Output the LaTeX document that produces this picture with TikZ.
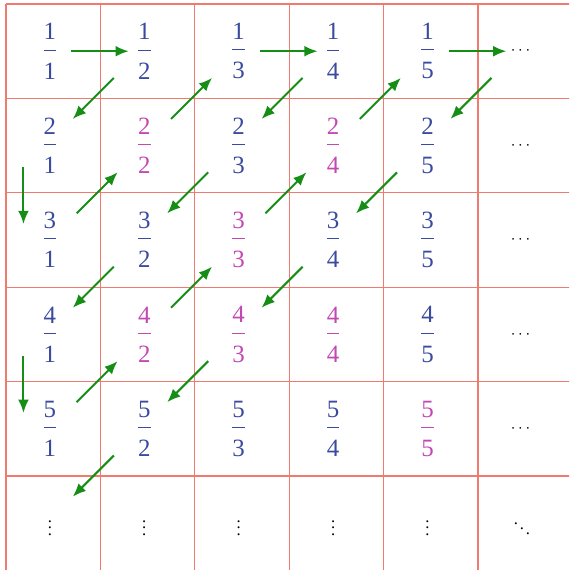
\documentclass[tikz,border=0pt]{standalone}
\usepackage{amsmath}
\usepackage{fontspec}
\setmainfont{Liberation Serif}
\usepackage{tikz}
\usepackage{xcolor}
\usetikzlibrary{arrows.meta}
\definecolor{fracBlue}{RGB}{58,74,158}
\definecolor{fracPink}{RGB}{194,72,178}
\definecolor{arrGreen}{RGB}{22,142,22}
\definecolor{gridRed}{RGB}{240,122,110}
\newcommand{\rat}[2]{$\nulldelimiterspace=0pt\dfrac{\text{#1}}{\raisebox{-4pt}{#2}}$}
\tikzset{
    cellNode/.style={inner sep=0pt, font=\fontsize{15}{18}\selectfont},
    blueFrac/.style={cellNode, text=fracBlue},
    pinkFrac/.style={cellNode, text=fracPink},
    dotsNode/.style={inner sep=0pt, text=black},
    gridLine/.style={draw=gridRed, line width=0.8pt},
    cantorArr/.style={-{Latex[length=2.8mm, width=2.3mm]}, draw=arrGreen, line width=1.2pt},
    horArr/.style={cantorArr, shorten <=4.5mm, shorten >=3.3mm},
    downArr/.style={cantorArr, shorten <=4.5mm, shorten >=3.4mm},
    upArr/.style={cantorArr, shorten <=8mm, shorten >=8mm},
    dlArr/.style={upArr, transform canvas={xshift=-0.8mm}}
}

\begin{document}
\begin{tikzpicture}
    \useasboundingbox (-0.057,0.085) rectangle (11.998,-11.99);
    \clip (-0.057,0.085) rectangle (11.998,-11.99);
    % --- grid ---
    \begin{scope}[xshift=0.7mm]
        \draw[gridLine, step=2] (0,0) grid (12,-12);
    \end{scope}
    % --- row 1 ---
    \node[blueFrac] (c11) at (1,-1) {\rat{1}{1}}; \node[blueFrac] (c12) at (3,-1) {\rat{1}{2}};
    \node[blueFrac] (c13) at (5,-1) {\rat{1}{3}}; \node[blueFrac] (c14) at (7,-1) {\rat{1}{4}};
    \node[blueFrac] (c15) at (9,-1) {\rat{1}{5}}; \node[dotsNode] (c16) at (11,-1) {$\cdots$};
    % --- row 2 ---
    \node[blueFrac] (c21) at (1,-3) {\rat{2}{1}}; \node[pinkFrac] (c22) at (3,-3) {\rat{2}{2}};
    \node[blueFrac] (c23) at (5,-3) {\rat{2}{3}}; \node[pinkFrac] (c24) at (7,-3) {\rat{2}{4}};
    \node[blueFrac] (c25) at (9,-3) {\rat{2}{5}}; \node[dotsNode] (c26) at (11,-3) {$\cdots$};
    % --- row 3 ---
    \node[blueFrac] (c31) at (1,-5) {\rat{3}{1}}; \node[blueFrac] (c32) at (3,-5) {\rat{3}{2}};
    \node[pinkFrac] (c33) at (5,-5) {\rat{3}{3}}; \node[blueFrac] (c34) at (7,-5) {\rat{3}{4}};
    \node[blueFrac] (c35) at (9,-5) {\rat{3}{5}}; \node[dotsNode] (c36) at (11,-5) {$\cdots$};
    % --- row 4 ---
    \node[blueFrac] (c41) at (1,-7) {\rat{4}{1}}; \node[pinkFrac] (c42) at (3,-7) {\rat{4}{2}};
    \node[pinkFrac] (c43) at (5,-7) {\rat{4}{3}}; \node[pinkFrac] (c44) at (7,-7) {\rat{4}{4}};
    \node[blueFrac] (c45) at (9,-7) {\rat{4}{5}}; \node[dotsNode] (c46) at (11,-7) {$\cdots$};
    % --- row 5 ---
    \node[blueFrac] (c51) at (1,-9) {\rat{5}{1}}; \node[blueFrac] (c52) at (3,-9) {\rat{5}{2}};
    \node[blueFrac] (c53) at (5,-9) {\rat{5}{3}}; \node[blueFrac] (c54) at (7,-9) {\rat{5}{4}};
    \node[pinkFrac] (c55) at (9,-9) {\rat{5}{5}}; \node[dotsNode] (c56) at (11,-9) {$\cdots$};
    % --- row 6 ---
    \node[dotsNode] (c61) at (1,-11) {$\vdots$}; \node[dotsNode] (c62) at (3,-11) {$\vdots$};
    \node[dotsNode] (c63) at (5,-11) {$\vdots$}; \node[dotsNode] (c64) at (7,-11) {$\vdots$};
    \node[dotsNode] (c65) at (9,-11) {$\vdots$}; \node[dotsNode] (c66) at (11,-11) {$\ddots$};
    % --- Cantor path ---
    \draw[horArr] (c11.center) -- (c12.center);
    \draw[dlArr] (c12.center) -- (c21.center);
    \draw[downArr] ([xshift=-5.6mm]c21.center) -- ([xshift=-5.6mm]c31.center);
    \draw[upArr] (c31.center) -- (c22.center);
    \draw[upArr] (c22.center) -- (c13.center);
    \draw[horArr] (c13.center) -- (c14.center);
    \draw[dlArr] (c14.center) -- (c23.center);
    \draw[dlArr] (c23.center) -- (c32.center);
    \draw[dlArr] (c32.center) -- (c41.center);
    \draw[downArr] ([xshift=-5.6mm]c41.center) -- ([xshift=-5.6mm]c51.center);
    \draw[upArr] (c51.center) -- (c42.center);
    \draw[upArr] (c42.center) -- (c33.center);
    \draw[upArr] (c33.center) -- (c24.center);
    \draw[upArr] (c24.center) -- (c15.center);
    \draw[horArr] (c15.center) -- (c16.center);
    \draw[dlArr] (c16.center) -- (c25.center);
    \draw[dlArr] (c25.center) -- (c34.center);
    \draw[dlArr] (c34.center) -- (c43.center);
    \draw[dlArr] (c43.center) -- (c52.center);
    \draw[dlArr] (c52.center) -- (c61.center);
\end{tikzpicture}
\end{document}
